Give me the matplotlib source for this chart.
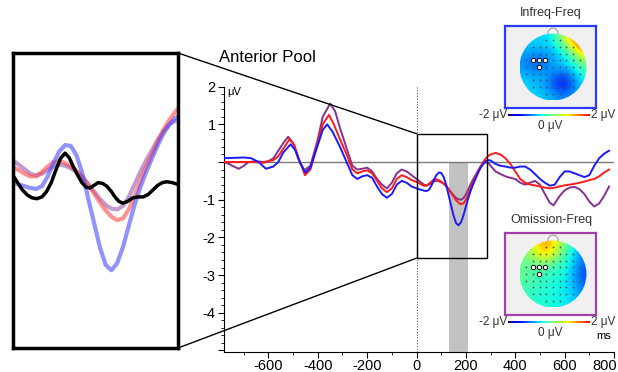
import numpy as np
import matplotlib.pyplot as plt
import matplotlib.transforms as mtransforms
from matplotlib.colors import ListedColormap
from matplotlib.patches import Rectangle, Circle, Ellipse, ConnectionPatch

plt.rcParams['font.family'] = ['Liberation Sans', 'DejaVu Sans']

# ERP waveforms, anterior pool (time in ms, amplitude in uV)
t_blue = [-780, -700, -670, -640, -610, -580, -560, -540, -510, -490, -470, -450, -430,
          -400, -380, -362, -340, -310, -280, -260, -240, -220, -200, -180, -160, -140,
          -120, -100, -80, -60, -40, -20,
          0, 10, 20, 30, 40, 50, 60, 70, 80, 90, 100, 110, 120, 130, 140, 150, 160, 170,
          180, 190, 200, 210, 220, 230, 240, 250, 260, 270, 280, 290, 300,
          320, 340, 360, 380, 400, 420, 440, 460,
          480, 500, 520, 540, 560, 580, 600, 620, 640, 660, 680, 700, 720, 740, 760, 780]
v_blue = [0.10, 0.12, 0.10, 0.0, -0.18, -0.12, 0.0, 0.25, 0.47, 0.3, -0.05, -0.28, -0.15,
          0.45, 0.85, 1.0, 0.8, 0.4, -0.05, -0.35, -0.45, -0.38, -0.35, -0.42, -0.65, -0.85,
          -0.95, -0.85, -0.6, -0.5, -0.55, -0.65,
          -0.70, -0.72, -0.74, -0.76, -0.77, -0.74, -0.63, -0.48, -0.35, -0.28, -0.29, -0.4,
          -0.6, -0.88, -1.15, -1.42, -1.62, -1.68, -1.6, -1.42, -1.18, -0.95, -0.75, -0.58,
          -0.43, -0.28, -0.15, -0.05, 0.02, 0.05, 0.04,
          -0.05, -0.1, -0.12, -0.15, -0.15, -0.12, -0.12, -0.2,
          -0.32, -0.45, -0.55, -0.63, -0.6, -0.4, -0.25, -0.25, -0.3, -0.35, -0.4, -0.35,
          -0.1, 0.1, 0.22, 0.3]

t_red = [-780, -700, -660, -620, -600, -580, -560, -540, -515, -495, -475, -452, -430,
         -400, -380, -355, -335, -310, -280, -260, -240, -220, -200, -180, -160, -140,
         -120, -100, -80, -60, -40, -20,
         0, 10, 20, 30, 40, 50, 60, 70, 80, 90, 100, 110, 120, 130, 140, 150, 160, 170,
         180, 190, 200, 210, 220, 230, 240, 250, 260, 270, 280, 290, 300,
         320, 340, 360, 380, 400, 420, 440, 460, 480,
         500, 520, 540, 560, 580, 600, 620, 640, 660, 680, 700, 720, 740, 760, 780]
v_red = [0.0, 0.0, 0.0, -0.02, 0.02, 0.05, 0.15, 0.35, 0.6, 0.45, 0.05, -0.35, -0.2,
         0.5, 1.0, 1.25, 1.0, 0.6, 0.15, -0.2, -0.3, -0.25, -0.22, -0.3, -0.5, -0.7,
         -0.8, -0.7, -0.45, -0.35, -0.4, -0.48,
         -0.53, -0.56, -0.6, -0.63, -0.63, -0.58, -0.52, -0.47, -0.46, -0.48, -0.52, -0.57,
         -0.64, -0.72, -0.82, -0.92, -1.01, -1.08, -1.12, -1.1, -1.0, -0.85, -0.68, -0.52,
         -0.38, -0.24, -0.11, 0.0, 0.09, 0.16, 0.2,
         0.24, 0.2, 0.1, -0.05, -0.25, -0.45, -0.55, -0.6, -0.62,
         -0.65, -0.68, -0.7, -0.68, -0.65, -0.62, -0.6, -0.58, -0.55, -0.52, -0.48, -0.45,
         -0.38, -0.28, -0.2]

t_purple = [-780, -760, -740, -720, -700, -680, -650, -620, -600, -580, -560, -540, -520,
            -500, -480, -455, -430, -400, -380, -350, -330, -310, -280, -260, -240, -220,
            -200, -180, -160, -140, -120, -100, -80, -60, -40, -20,
            0, 10, 20, 30, 40, 50, 60, 70, 80, 90, 100, 110, 120, 130, 140, 150, 160, 170,
            180, 190, 200, 210, 220, 230, 240, 250, 260, 270, 280, 290, 300,
            320, 340, 360, 380, 400, 420, 440, 460, 480, 500, 520, 540, 555, 580, 600, 620,
            640, 660, 680, 700, 720, 740, 760, 780]
v_purple = [0.0, -0.05, -0.12, -0.18, -0.1, 0.0, 0.02, 0.0, 0.02, 0.1, 0.3, 0.5, 0.67,
            0.5, 0.1, -0.22, -0.1, 0.6, 1.2, 1.55, 1.35, 0.9, 0.3, -0.1, -0.2, -0.18,
            -0.15, -0.25, -0.45, -0.6, -0.7, -0.55, -0.3, -0.2, -0.25, -0.35,
            -0.45, -0.5, -0.55, -0.6, -0.62, -0.6, -0.56, -0.52, -0.5, -0.51, -0.54, -0.58,
            -0.64, -0.72, -0.8, -0.88, -0.95, -0.99, -1.0, -0.96, -0.86, -0.72, -0.58, -0.45,
            -0.34, -0.22, -0.12, -0.05, -0.01, -0.02, -0.1,
            -0.25, -0.32, -0.38, -0.42, -0.45, -0.55, -0.6, -0.55, -0.5, -0.6, -0.85, -1.08,
            -1.15, -0.9, -0.75, -0.68, -0.66, -0.72, -0.85, -1.05, -1.18, -1.1, -0.9, -0.65]

# black trace shown only in the zoomed inset
t_black = [0, 8, 16, 25, 33, 41, 50, 58, 66, 74, 82, 90, 97, 104, 112, 119, 126, 133, 140,
           147, 155, 162, 170, 176, 183, 190, 198, 207, 216, 225, 234, 242, 250, 258, 266,
           275, 285]
v_black = [-0.62, -0.7, -0.78, -0.84, -0.87, -0.88, -0.86, -0.8, -0.7, -0.56, -0.43, -0.37,
           -0.42, -0.52, -0.62, -0.7, -0.75, -0.76, -0.73, -0.7, -0.71, -0.74, -0.8, -0.86,
           -0.91, -0.93, -0.91, -0.87, -0.86, -0.86, -0.83, -0.78, -0.73, -0.7, -0.69,
           -0.7, -0.72]

analysis_window = [130, 210]
zoom_t = [0, 285]
zoom_v = [-2.55, 0.75]

# scalp maps, coarse grid (rows top->bottom, uV)
infreq_map = np.array([
    [-0.5, -0.5, -0.5, -0.3, 0.5, 1.4, 2.0],
    [-0.6, -0.6, -0.6, -0.5, -0.1, 0.7, 1.6],
    [-0.8, -0.9, -0.9, -0.7, -0.5, -0.1, 0.6],
    [-0.8, -1.0, -0.9, -0.7, -0.6, -0.4, 0.0],
    [-0.6, -0.7, -0.7, -0.9, -1.2, -0.8, -0.3],
    [-0.5, -0.6, -0.7, -1.1, -1.4, -1.0, -0.5],
    [-0.5, -0.5, -0.6, -0.7, -0.9, -0.8, -0.6]])
omission_map = np.array([
    [0.3, 0.8, 1.3, 1.0, 0.3, -0.3, -0.7],
    [0.2, 0.6, 1.0, 0.7, 0.0, -0.4, -0.9],
    [0.1, 0.1, 0.2, 0.0, -0.2, -0.5, -1.0],
    [0.1, -0.1, -0.1, -0.2, -0.3, -0.6, -1.1],
    [0.0, -0.1, -0.2, -0.3, -0.4, -0.6, -1.0],
    [-0.1, -0.2, -0.3, -0.3, -0.4, -0.5, -0.9],
    [-0.2, -0.2, -0.3, -0.3, -0.4, -0.5, -0.7]])
pool_x = [-0.6, -0.42, -0.24, -0.42]
pool_y = [0.21, 0.21, 0.21, 0.0]

c_blue, c_red, c_purple = '#1a1aff', '#ff1a1a', '#87308f'
topo_cmap = ListedColormap(plt.get_cmap('jet')(np.linspace(0, 0.9, 256)))

W, H = 618, 372
fig = plt.figure(figsize=(W / 100, H / 100), dpi=100)

# ---- main ERP axes
ax = fig.add_axes([224 / W, 1 - 352 / H, 390 / W, 265.4 / H])
ax.set_xlim(-780, 800)
ax.set_ylim(-5.04, 2.0)
ax.fill_between(analysis_window, -5.04, 0, color='#c2c2c2', lw=0, zorder=1)
ax.axhline(0, color='#7a7a7a', lw=1, zorder=2)
ax.axvline(0, color='#555555', lw=0.8, ls=(0, (1, 1.5)), zorder=2)
ax.plot(t_purple, v_purple, color=c_purple, lw=1.4, zorder=3)
ax.plot(t_red, v_red, color=c_red, lw=1.4, zorder=4)
ax.plot(t_blue, v_blue, color=c_blue, lw=1.4, zorder=5)
ax.add_patch(Rectangle((zoom_t[0], zoom_v[0]), zoom_t[1] - zoom_t[0], zoom_v[1] - zoom_v[0],
                       fill=False, ec='black', lw=1, zorder=6))
for s in ['top', 'right']:
    ax.spines[s].set_visible(False)
for s in ['left', 'bottom']:
    ax.spines[s].set_linewidth(0.8)
ax.set_xticks(range(-600, 801, 200))
ax.set_xticklabels(['-600', '-400', '-200', '0', '200', '400', '600', '800'])
ax.set_xticks(range(-700, 801, 100), minor=True)
ax.set_yticks(range(-5, 3))
ax.set_yticklabels(['', '-4', '-3', '-2', '-1', '', '1', '2'])
ax.set_yticks(np.arange(-5, 2.01, 0.2), minor=True)
ax.tick_params(labelsize=10.5, length=4, width=0.8)
ax.tick_params(axis='x', pad=1)
ax.tick_params(axis='y', pad=2)
ax.tick_params(which='minor', length=2, width=0.6)
# keep the last tick label inside the figure
last = ax.get_xticklabels()[-1]
last.set_ha('right')
last.set_transform(last.get_transform() + mtransforms.ScaledTranslation(3 / 100, 0, fig.dpi_scale_trans))
ax.text(-765, 1.98, 'μV', fontsize=8, va='top', ha='left')
ax.text(760, -4.62, 'ms', fontsize=8, va='center', ha='center')
fig.text(219 / W, 1 - 57 / H, 'Anterior Pool', fontsize=12, va='center', ha='left')

# ---- zoomed inset
ins = fig.add_axes([13 / W, 1 - 348 / H, 165 / W, 295 / H])
ins.plot(t_purple, v_purple, color='#9b59b0', lw=3, alpha=0.6)
ins.plot(t_red, v_red, color='#ff4a4a', lw=3, alpha=0.6)
ins.plot(t_blue, v_blue, color='#4a4aff', lw=3, alpha=0.6)
ins.plot(t_black, v_black, color='black', lw=2.5)
ins.set_xlim(zoom_t)
ins.set_ylim(zoom_v)
ins.set_xticks([])
ins.set_yticks([])
for s in ins.spines.values():
    s.set_linewidth(2.5)

for ya, yb in [(zoom_v[1], 1), (zoom_v[0], 0)]:
    con = ConnectionPatch(xyA=(0, ya), coordsA=ax.transData, xyB=(1, yb),
                          coordsB=ins.transAxes, color='black', lw=1)
    fig.add_artist(con)


# ---- scalp maps
def topomap(top, grid, edge, title):
    left, w, h, r, cx = 505, 91, 82, 33.5, 48
    tax = fig.add_axes([left / W, 1 - (top + h) / H, w / W, h / H])
    tax.set_facecolor('#f0f0f0')
    tax.set_xlim(-cx / r, (w - cx) / r)
    tax.set_ylim(-h / 2 / r, h / 2 / r)
    tax.set_xticks([])
    tax.set_yticks([])
    for s in tax.spines.values():
        s.set_color(edge)
        s.set_linewidth(1.6)
    tax.add_patch(Ellipse((0, 1.0), 0.3, 0.32, fc='#f7f7f7', ec='#a0a0a0', lw=0.8, zorder=1))
    head = Circle((0, 0), 1.0, fc='none', ec='none', transform=tax.transData)
    im = tax.imshow(grid, extent=(-1, 1, -1, 1), cmap=topo_cmap, vmin=-2, vmax=2,
                    interpolation='bicubic', zorder=2)
    im.set_clip_path(head)
    g = np.arange(-0.8, 0.81, 0.2)
    gx, gy = np.meshgrid(g, g)
    m = gx ** 2 + gy ** 2 < 0.75
    tax.scatter(gx[m], gy[m], s=1.6, color='#505050', lw=0, zorder=3)
    tax.scatter(pool_x, pool_y, s=10, facecolors='white', edgecolors='black', lw=0.7, zorder=4)
    fig.text(551 / W, 1 - (top - 13) / H, title, fontsize=9, color='#333333',
             ha='center', va='center')
    cy = top + h + 7
    cax = fig.add_axes([508 / W, 1 - (cy + 1.5) / H, 82 / W, 3 / H])
    cax.imshow(np.linspace(-2, 2, 256)[None, :], aspect='auto', cmap=topo_cmap)
    cax.axis('off')
    fig.text(507 / W, 1 - cy / H, '-2 μV', fontsize=8.5, color='#333333', ha='right', va='center')
    fig.text(591 / W, 1 - cy / H, '2 μV', fontsize=8.5, color='#333333', ha='left', va='center')
    fig.text(550 / W, 1 - (cy + 11) / H, '0 μV', fontsize=8.5, color='#333333', ha='center', va='center')


topomap(26, infreq_map, '#2b3bff', 'Infreq-Freq')
topomap(233, omission_map, '#a040a8', 'Omission-Freq')

fig.savefig('out.png', dpi=100)
